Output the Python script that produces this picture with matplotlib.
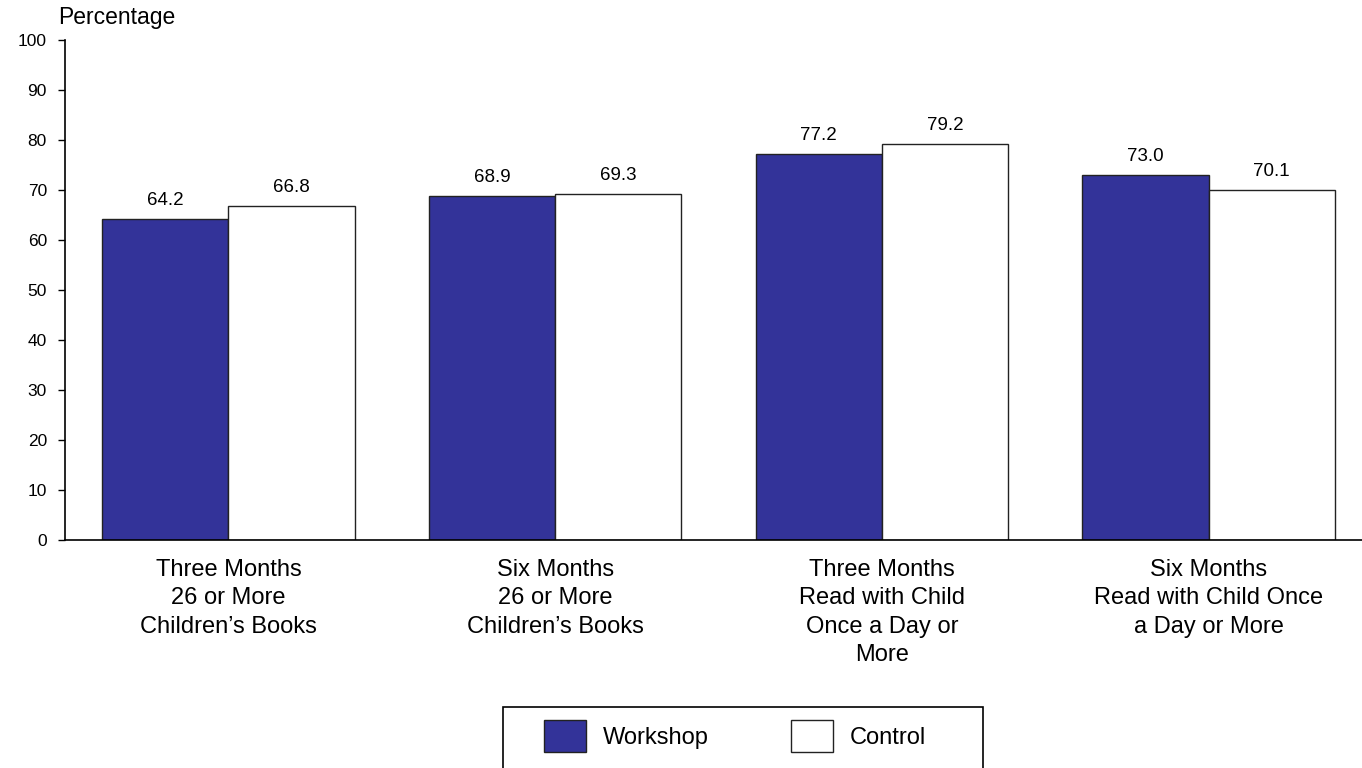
import matplotlib.pyplot as plt
import numpy as np
from matplotlib.patches import Rectangle

plt.rcParams['font.family'] = ['Liberation Sans', 'DejaVu Sans']

CATEGORIES = [
    'Three Months\n26 or More\nChildren\u2019s Books',
    'Six Months\n26 or More\nChildren\u2019s Books',
    'Three Months\nRead with Child\nOnce a Day or\nMore',
    'Six Months\nRead with Child Once\na Day or More',
]
WORKSHOP = [64.2, 68.9, 77.2, 73.0]
CONTROL = [66.8, 69.3, 79.2, 70.1]
Y_TICKS = list(range(0, 101, 10))

NAVY = '#333399'

fig = plt.figure(figsize=(13.62, 7.68), dpi=100)
ax = fig.add_axes([65 / 1362, 1 - 540 / 768, 1307 / 1362, 500 / 768])

x = np.arange(len(CATEGORIES))
w = 0.386
ax.bar(x - w / 2, WORKSHOP, w, color=NAVY, edgecolor='#222222', linewidth=1.0, label='Workshop')
ax.bar(x + w / 2, CONTROL, w, color='white', edgecolor='#222222', linewidth=1.0, label='Control')

# value labels above each bar
for xi, v in zip(x - w / 2, WORKSHOP):
    ax.annotate(f'{v:.1f}', (xi, v), xytext=(0, 7), textcoords='offset points',
                ha='center', va='bottom', fontsize=13.5)
for xi, v in zip(x + w / 2, CONTROL):
    ax.annotate(f'{v:.1f}', (xi, v), xytext=(0, 7), textcoords='offset points',
                ha='center', va='bottom', fontsize=13.5)

ax.set_xlim(-0.5, 3.5)
ax.set_ylim(0, 100)
ax.set_yticks(Y_TICKS)
ax.set_yticklabels([str(t) for t in Y_TICKS], fontsize=12.5)
ax.set_xticks(x)
ax.set_xticklabels(CATEGORIES, fontsize=17, linespacing=1.38, ha='center')
ax.tick_params(axis='x', length=0, pad=13.5)
ax.tick_params(axis='y', direction='out', length=5, width=1, pad=8)

for side in ('top', 'right'):
    ax.spines[side].set_visible(False)
ax.spines['left'].set_linewidth(1.2)
ax.spines['bottom'].set_linewidth(1.2)

fig.text(58 / 1362, 1 - 24 / 768, 'Percentage', fontsize=16.5, ha='left', va='baseline')

# legend box runs off the bottom edge
fig.patches.append(Rectangle((503 / 1362, -0.05), 480 / 1362, 0.05 + 1 - 707 / 768,
                             transform=fig.transFigure, facecolor='white',
                             edgecolor='black', linewidth=1.2, zorder=1))
handles, labels = ax.get_legend_handles_labels()
fig.legend(handles, labels, loc='center', bbox_to_anchor=(735 / 1362, 1 - 736 / 768),
           ncol=2, frameon=False, fontsize=17, handlelength=1.78, handleheight=1.7,
           handletextpad=0.72, columnspacing=3.45)

fig.savefig('out.png', dpi=100)
